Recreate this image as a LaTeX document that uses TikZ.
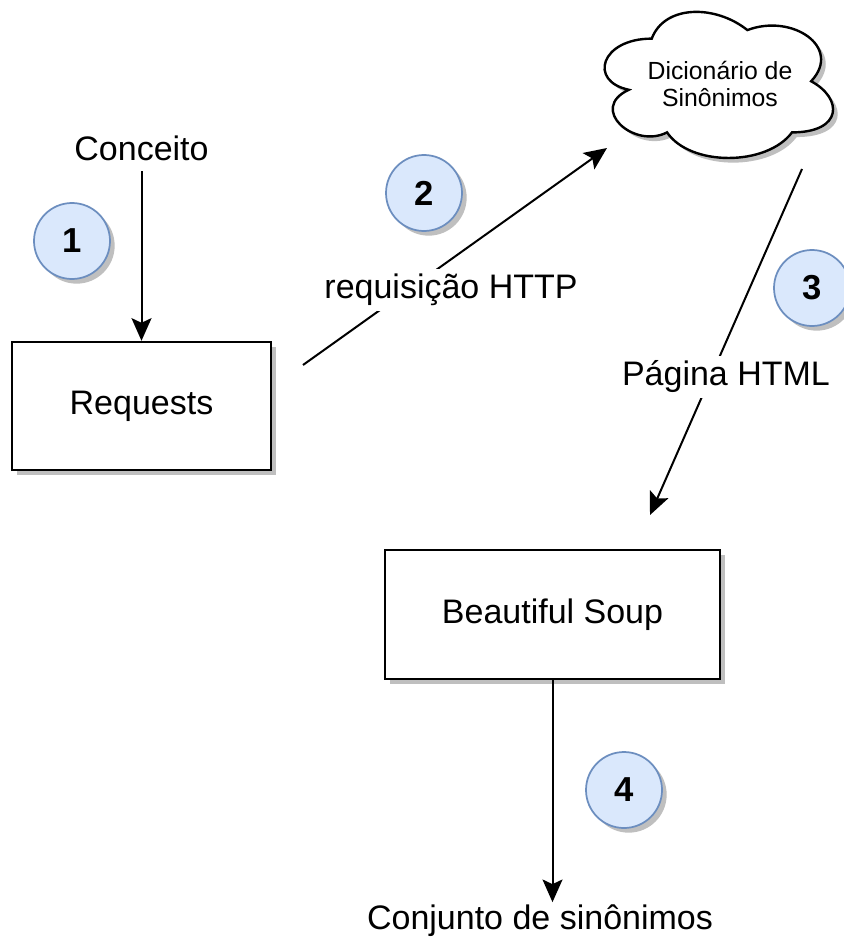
\documentclass[tikz,border=0pt]{standalone}
\usepackage{fontspec}
\setmainfont{Liberation Sans}
\usetikzlibrary{arrows.meta,shadows}

\definecolor{badgefill}{HTML}{DAE8FC}
\definecolor{badgedraw}{HTML}{6C8EBF}

\tikzset{
    boxshadow/.style={drop shadow={shadow xshift=3.5pt, shadow yshift=-3.5pt, opacity=0.25, fill=black}},
    box/.style={rectangle, draw, line width=1.8pt, fill=white, minimum width=194pt, minimum height=96pt, boxshadow},
    badge/.style={circle, draw=badgedraw, fill=badgefill, line width=1.3pt, minimum size=57pt, inner sep=0pt, font=\fontsize{26}{30}\selectfont\bfseries, boxshadow},
    txt/.style={inner sep=2pt},
    lbl/.style={fill=white, inner sep=4pt},
    arr/.style={-{Stealth[length=17pt, width=15pt, inset=3.5pt]}, line width=1.5pt},
}

\begin{document}
\begin{tikzpicture}[x=0.75pt, y=-0.75pt, font=\fontsize{25.5}{30}\selectfont]
    \useasboundingbox (0,0) rectangle (843,949);

    \begin{scope}[shift={(588,-4)}, x=191.25pt, y=-127.875pt]
        \draw[line width=1.8pt, fill=white, boxshadow] (0.25,0.25)
            .. controls (0.05,0.25) and (0,0.5) .. (0.16,0.55)
            .. controls (0,0.66) and (0.18,0.9) .. (0.31,0.8)
            .. controls (0.4,1) and (0.7,1) .. (0.8,0.8)
            .. controls (1,0.8) and (1,0.6) .. (0.875,0.5)
            .. controls (1,0.3) and (0.8,0.1) .. (0.625,0.2)
            .. controls (0.5,0.05) and (0.3,0.05) .. (0.25,0.25) -- cycle;
    \end{scope}
    \node[align=center, font=\fontsize{18.6}{20.25}\selectfont] (dict) at (720,84) {Dicionário de\\Sinônimos};

    \node[box] (req) at (141.5,406) {Requests};
    \node[box, minimum width=251pt, minimum height=96.75pt] (soup) at (552.5,614.5) {Beautiful Soup};
    \node[txt] (concept) at (141.5,148) {Conceito};
    \node[txt] (result) at (540,921) {Conjunto de sinônimos};

    \begin{scope}[every node/.style={badge}]
    \node (1) at (72,241) {1};
    \node (2) at (424,193) {2};
    \node (3) at (812,288) {3};
    \node (4) at (624,790) {4};
    \end{scope}

    \coordinate (reqout) at (303,365);
    \coordinate (dictin) at (607,148);
    \coordinate (dictout) at (802,169);
    \coordinate (soupin) at (650,515);

    \draw[arr, shorten <=6pt] (concept) -- (req);
    \draw[arr] (reqout) -- node[lbl, pos=0.487, yshift=-23pt] {requisição HTTP} (dictin);
    \draw[arr] (dictout) -- node[lbl, pos=0.601, xshift=11.5pt] {Página HTML} (soupin);
    \draw[arr] (soup) -- (soup |- result.north);
\end{tikzpicture}
\end{document}
